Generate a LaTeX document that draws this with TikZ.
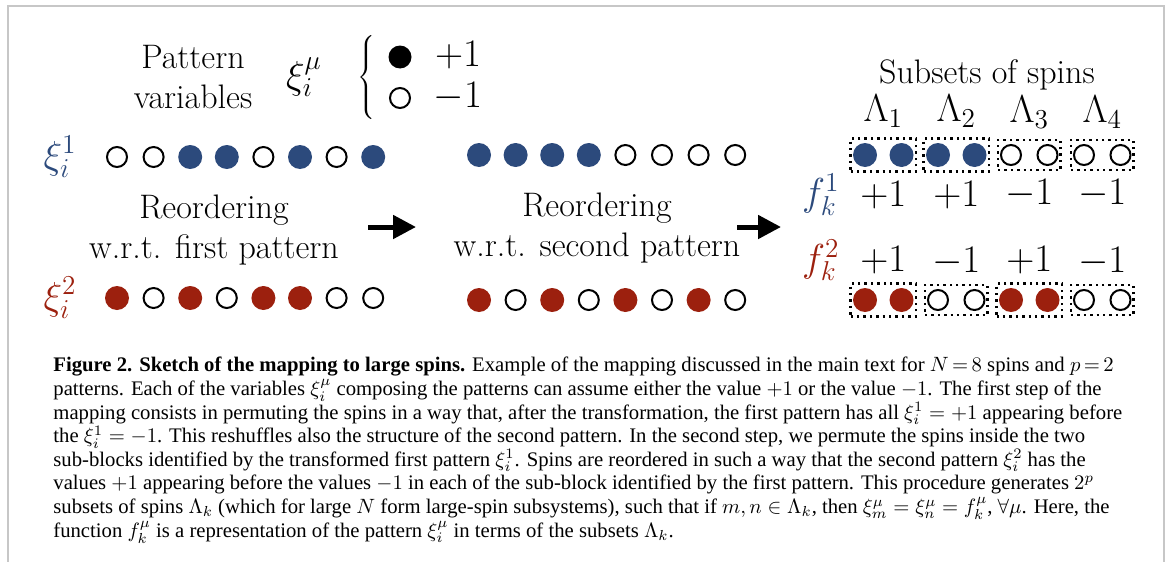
\RequirePackage{fix-cm}
\documentclass[tikz,border=0pt]{standalone}
\usepackage{fontspec}
\newfontfamily\capfont{Liberation Serif}
\usetikzlibrary{arrows.meta, fit, positioning}
\definecolor{patblue}{RGB}{44,74,124}
\definecolor{patred}{RGB}{156,32,14}

\begin{document}
\begin{tikzpicture}[
    x=0.5pt, y=-0.5pt,
    txt/.style={font=\fontsize{17}{20}\selectfont, inner sep=0pt, align=center},
    mth/.style={font=\fontsize{19.5}{23}\selectfont, inner sep=0pt},
    spb/.style={circle, fill=patblue, minimum size=12pt, inner sep=0pt},
    spr/.style={circle, fill=patred, minimum size=12pt, inner sep=0pt},
    spk/.style={circle, fill=black, minimum size=11.5pt, inner sep=0pt},
    spo/.style={circle, draw=black, line width=1pt, minimum size=10pt, inner sep=0pt},
    subset/.style={draw, dotted, line width=1.2pt, inner xsep=1pt, inner ysep=2pt},
    arrow/.style={-{Triangle[length=11.5pt, width=11.5pt]}, line width=2.5pt},
    boxline/.style={draw=black!22, line width=1pt}
]
\useasboundingbox (0,0) rectangle (1168,562);
\draw[boxline] (8,562) -- (8,6) -- (1164,6) -- (1164,562);

% legend
\node[txt] (patvar) at (193,77) {Pattern\\variables};
\node[mth] (ximu) at (304,77) {$\xi_i^\mu$};
\node[mth] (brace) at (368,77) {$\left\{\vrule height 16pt depth 16pt width 0pt\right.$};
\node[spk] (up) at (400,57) {};
\node[spo] (dn) at (400,98) {};
\node[mth] (plus) at (458,55) {$+1$};
\node[mth] (minus) at (458,97) {$-1$};

% pattern labels
\node[mth, text=patblue] (xione) at (60,157) {$\xi_i^1$};
\node[mth, text=patred] (xitwo) at (60,298) {$\xi_i^2$};

% original order
\foreach \s [count=\i] in {spo,spo,spb,spb,spo,spb,spo,spb}
  \node[\s] (a\i) at ({117+36.6*(\i-1)},157) {};
\foreach \s [count=\i] in {spr,spo,spr,spo,spr,spr,spo,spo}
  \node[\s] (b\i) at ({117+36.6*(\i-1)},298) {};
\node[txt] (step1) at (214,230) {Reordering\\w.r.t. first pattern};

% after first reordering
\foreach \s [count=\i] in {spb,spb,spb,spb,spo,spo,spo,spo}
  \node[\s] (m\i) at ({479+36.6*(\i-1)},155) {};
\foreach \s [count=\i] in {spr,spo,spr,spo,spr,spo,spr,spo}
  \node[\s] (n\i) at ({479+36.6*(\i-1)},300) {};
\node[txt] (step2) at (597,228) {Reordering\\w.r.t. second pattern};

\coordinate (ar1s) at (368,227);
\coordinate (ar1e) at (416,227);
\coordinate (ar2s) at (737,227);
\coordinate (ar2e) at (781,227);
\draw[arrow] (ar1s) -- (ar1e);
\draw[arrow] (ar2s) -- (ar2e);

% subsets
\node[txt] (subsets) at (987,75) {Subsets of spins};
\foreach \s [count=\i] in {spb,spb,spb,spb,spo,spo,spo,spo}
  \node[\s] (c\i) at ({865+36.5*(\i-1)},155) {};
\foreach \s [count=\i] in {spr,spr,spo,spo,spr,spr,spo,spo}
  \node[\s] (d\i) at ({865+36.5*(\i-1)},300) {};
\foreach \k/\fa/\fb in {1/+1/+1, 2/+1/-1, 3/-1/+1, 4/-1/-1} {
  \pgfmathtruncatemacro\m{2*\k-1}
  \pgfmathtruncatemacro\n{2*\k}
  \node[subset, fit=(c\m)(c\n)] (top\k) {};
  \node[subset, fit=(d\m)(d\n)] (bot\k) {};
  \node[mth, above=5pt of top\k] (lam\k) {$\Lambda_\k$};
  \node[mth, below=4pt of top\k] (fa\k) {$\fa$};
  \node[mth, above=4pt of bot\k] (fb\k) {$\fb$};
}
\node[mth, text=patblue, left=10pt of fa1] (fone) {$f_k^1$};
\node[mth, text=patred, left=10pt of fb1] (ftwo) {$f_k^2$};

% caption
\node[anchor=north west, inner sep=0pt, align=left,
      font=\capfont\fontsize{10.35}{11.8}\selectfont] (cap) at (53,357) {%
\textbf{Figure 2. Sketch of the mapping to large spins.} Example of the mapping discussed in the main text for $N\,{=}\,8$ spins and $p\,{=}\,2$\\
patterns. Each of the variables $\xi_i^\mu$ composing the patterns can assume either the value $+1$ or the value $-1$. The first step of the\\
mapping consists in permuting the spins in a way that, after the transformation, the first pattern has all $\xi_i^1=+1$ appearing before\\
the $\xi_i^1=-1$. This reshuffles also the structure of the second pattern. In the second step, we permute the spins inside the two\\
sub-blocks identified by the transformed first pattern $\xi_i^1$. Spins are reordered in such a way that the second pattern $\xi_i^2$ has the\\
values $+1$ appearing before the values $-1$ in each of the sub-block identified by the first pattern. This procedure generates $2^p$\\
subsets of spins $\Lambda_k$ (which for large $N$ form large-spin subsystems), such that if $m,n\in\Lambda_k$, then $\xi_m^\mu=\xi_n^\mu=f_k^\mu$, $\forall\mu$. Here, the\\
function $f_k^\mu$ is a representation of the pattern $\xi_i^\mu$ in terms of the subsets $\Lambda_k$.};
\end{tikzpicture}
\end{document}
